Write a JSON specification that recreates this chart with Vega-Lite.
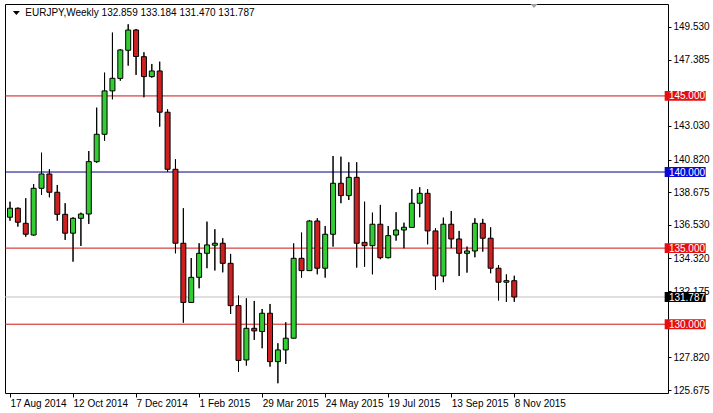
{
  "$schema": "https://vega.github.io/schema/vega-lite/v6.json",
  "width": 663,
  "height": 389,
  "autosize": {"type": "none"},
  "padding": {"left": 5, "top": 4, "right": 45, "bottom": 20},
  "background": "white",
  "config": {
    "view": {"stroke": "#000000", "strokeWidth": 1},
    "font": "Liberation Sans",
    "axis": {"labelOverlap": false, "labelSeparation": 0, "labelBound": false, "labelFlush": false, "grid": false, "domain": false, "title": null}
  },
  "datasets": {
    "candles": [
      {"d": "2014-08-17", "o": 137.03, "h": 138.05, "l": 136.80, "c": 137.62},
      {"d": "2014-08-24", "o": 137.62, "h": 137.67, "l": 136.41, "c": 136.70},
      {"d": "2014-08-31", "o": 136.63, "h": 138.28, "l": 135.75, "c": 135.91},
      {"d": "2014-09-07", "o": 135.86, "h": 139.20, "l": 135.82, "c": 138.93},
      {"d": "2014-09-14", "o": 138.93, "h": 141.27, "l": 138.49, "c": 139.87},
      {"d": "2014-09-21", "o": 139.87, "h": 140.18, "l": 138.34, "c": 138.67},
      {"d": "2014-09-28", "o": 138.67, "h": 139.15, "l": 136.80, "c": 137.22},
      {"d": "2014-10-05", "o": 137.22, "h": 137.95, "l": 135.54, "c": 135.98},
      {"d": "2014-10-12", "o": 135.98, "h": 137.03, "l": 134.11, "c": 136.96},
      {"d": "2014-10-19", "o": 136.96, "h": 137.33, "l": 135.14, "c": 137.24},
      {"d": "2014-10-26", "o": 137.24, "h": 141.38, "l": 136.59, "c": 140.68},
      {"d": "2014-11-02", "o": 140.68, "h": 144.23, "l": 140.61, "c": 142.48},
      {"d": "2014-11-09", "o": 142.48, "h": 146.53, "l": 142.06, "c": 145.33},
      {"d": "2014-11-16", "o": 145.33, "h": 149.16, "l": 144.78, "c": 146.16},
      {"d": "2014-11-23", "o": 146.15, "h": 148.08, "l": 146.00, "c": 148.02},
      {"d": "2014-11-30", "o": 148.00, "h": 149.71, "l": 146.99, "c": 149.33},
      {"d": "2014-12-07", "o": 149.33, "h": 149.40, "l": 146.38, "c": 147.59},
      {"d": "2014-12-14", "o": 147.58, "h": 147.87, "l": 144.91, "c": 146.27},
      {"d": "2014-12-21", "o": 146.27, "h": 147.10, "l": 146.20, "c": 146.64},
      {"d": "2014-12-28", "o": 146.64, "h": 147.25, "l": 142.98, "c": 143.93},
      {"d": "2015-01-04", "o": 143.93, "h": 144.12, "l": 140.02, "c": 140.18},
      {"d": "2015-01-11", "o": 140.18, "h": 140.84, "l": 134.66, "c": 135.32},
      {"d": "2015-01-18", "o": 135.32, "h": 137.62, "l": 130.10, "c": 131.43},
      {"d": "2015-01-25", "o": 131.43, "h": 134.35, "l": 131.40, "c": 133.08},
      {"d": "2015-02-01", "o": 133.08, "h": 135.32, "l": 132.36, "c": 134.66},
      {"d": "2015-02-08", "o": 134.66, "h": 136.74, "l": 133.68, "c": 135.21},
      {"d": "2015-02-15", "o": 135.19, "h": 136.24, "l": 133.53, "c": 135.32},
      {"d": "2015-02-22", "o": 135.32, "h": 135.65, "l": 133.41, "c": 134.00},
      {"d": "2015-03-01", "o": 134.00, "h": 134.62, "l": 130.67, "c": 131.22},
      {"d": "2015-03-08", "o": 131.22, "h": 131.88, "l": 126.88, "c": 127.62},
      {"d": "2015-03-15", "o": 127.65, "h": 131.70, "l": 127.28, "c": 129.73},
      {"d": "2015-03-22", "o": 129.73, "h": 131.53, "l": 128.97, "c": 129.56},
      {"d": "2015-03-29", "o": 129.52, "h": 131.00, "l": 128.42, "c": 130.72},
      {"d": "2015-04-05", "o": 130.72, "h": 131.33, "l": 127.21, "c": 127.54},
      {"d": "2015-04-12", "o": 127.54, "h": 128.75, "l": 126.12, "c": 128.31},
      {"d": "2015-04-19", "o": 128.31, "h": 130.13, "l": 127.39, "c": 129.08},
      {"d": "2015-04-26", "o": 129.08, "h": 135.31, "l": 129.07, "c": 134.33},
      {"d": "2015-05-03", "o": 134.33, "h": 136.02, "l": 133.06, "c": 133.52},
      {"d": "2015-05-10", "o": 133.52, "h": 136.85, "l": 133.50, "c": 136.78},
      {"d": "2015-05-17", "o": 136.78, "h": 136.96, "l": 133.28, "c": 133.68},
      {"d": "2015-05-24", "o": 133.68, "h": 136.45, "l": 133.06, "c": 135.91},
      {"d": "2015-05-31", "o": 135.91, "h": 141.05, "l": 135.10, "c": 139.26},
      {"d": "2015-06-07", "o": 139.26, "h": 141.01, "l": 137.95, "c": 138.45},
      {"d": "2015-06-14", "o": 138.45, "h": 140.64, "l": 138.16, "c": 139.65},
      {"d": "2015-06-21", "o": 139.65, "h": 140.64, "l": 133.72, "c": 135.32},
      {"d": "2015-06-28", "o": 135.38, "h": 138.05, "l": 133.78, "c": 135.16},
      {"d": "2015-07-05", "o": 135.16, "h": 137.33, "l": 133.28, "c": 136.57},
      {"d": "2015-07-12", "o": 136.57, "h": 137.84, "l": 134.27, "c": 134.37},
      {"d": "2015-07-19", "o": 134.37, "h": 136.45, "l": 134.33, "c": 135.82},
      {"d": "2015-07-26", "o": 135.86, "h": 137.36, "l": 135.49, "c": 136.19},
      {"d": "2015-08-02", "o": 136.19, "h": 136.67, "l": 134.99, "c": 136.37},
      {"d": "2015-08-09", "o": 136.36, "h": 138.87, "l": 136.36, "c": 137.95},
      {"d": "2015-08-16", "o": 137.95, "h": 139.00, "l": 137.03, "c": 138.60},
      {"d": "2015-08-23", "o": 138.60, "h": 138.87, "l": 135.25, "c": 136.13},
      {"d": "2015-08-30", "o": 136.13, "h": 136.30, "l": 132.25, "c": 133.17},
      {"d": "2015-09-06", "o": 133.17, "h": 137.00, "l": 132.76, "c": 136.57},
      {"d": "2015-09-13", "o": 136.57, "h": 137.44, "l": 134.99, "c": 135.60},
      {"d": "2015-09-20", "o": 135.60, "h": 136.13, "l": 133.17, "c": 134.66},
      {"d": "2015-09-27", "o": 134.66, "h": 135.10, "l": 133.39, "c": 134.81},
      {"d": "2015-10-04", "o": 134.81, "h": 136.96, "l": 134.40, "c": 136.63},
      {"d": "2015-10-11", "o": 136.63, "h": 136.92, "l": 134.77, "c": 135.65},
      {"d": "2015-10-18", "o": 135.65, "h": 136.37, "l": 133.35, "c": 133.68},
      {"d": "2015-10-25", "o": 133.68, "h": 133.89, "l": 131.56, "c": 132.76},
      {"d": "2015-11-01", "o": 132.76, "h": 133.27, "l": 131.46, "c": 132.86},
      {"d": "2015-11-08", "o": 132.859, "h": 133.184, "l": 131.470, "c": 131.787}
    ],
    "levels": [
      {"v": 145.0, "line": "#cc1414", "box": "#e60f0f"},
      {"v": 140.0, "line": "#000080", "box": "#0a0ad7"},
      {"v": 135.0, "line": "#cc1414", "box": "#e60f0f"},
      {"v": 131.787, "line": "#c0c0c0", "box": "#000000"},
      {"v": 130.0, "line": "#cc1414", "box": "#e60f0f"}
    ]
  },
  "layer": [
    {
      "data": {"name": "candles"},
      "mark": {"type": "rule", "color": "#000000", "strokeWidth": 1, "clip": true},
      "encoding": {
        "x": {
          "field": "d", "type": "temporal", "title": null,
          "scale": {"type": "utc", "domain": [{"year": 2014, "month": 8, "date": 17, "utc": true}, {"year": 2016, "month": 3, "date": 19, "hours": 3, "utc": true}]},
          "axis": {
            "title": null, "domain": false, "grid": false, "tickCount": 30,
            "values": [
              {"year": 2014, "month": 8, "date": 17, "utc": true},
              {"year": 2014, "month": 10, "date": 12, "utc": true},
              {"year": 2014, "month": 12, "date": 7, "utc": true},
              {"year": 2015, "month": 2, "date": 1, "utc": true},
              {"year": 2015, "month": 3, "date": 29, "utc": true},
              {"year": 2015, "month": 5, "date": 24, "utc": true},
              {"year": 2015, "month": 7, "date": 19, "utc": true},
              {"year": 2015, "month": 9, "date": 13, "utc": true},
              {"year": 2015, "month": 11, "date": 8, "utc": true}
            ],
            "format": "%-d %b %Y",
            "tickSize": 4, "tickColor": "#000000",
            "labelAlign": "left", "labelBaseline": "top", "labelPadding": 1, "labelDx": 1,
            "labelFlush": false, "labelOverlap": false, "labelBound": false,
            "labelFont": "Liberation Sans", "labelFontSize": 10, "labelColor": "#000000"
          }
        },
        "y": {
          "field": "l", "type": "quantitative", "title": null,
          "scale": {"domain": [125.48, 151.04], "nice": false, "zero": false},
          "axis": {
            "orient": "right", "title": null, "domain": false, "grid": false, "tickCount": 30,
            "values": [149.53, 147.385, 143.03, 140.82, 138.675, 136.53, 134.32, 132.175, 127.82, 125.675],
            "format": ".3f",
            "tickSize": 3, "tickColor": "#000000", "labelPadding": 2,
            "labelOverlap": false, "labelBound": false, "labelFlush": false,
            "labelFont": "Liberation Sans", "labelFontSize": 10, "labelColor": "#000000"
          }
        },
        "y2": {"field": "h"}
      }
    },
    {
      "data": {"name": "levels"},
      "mark": {"type": "rule", "strokeWidth": 1, "clip": true},
      "encoding": {
        "y": {"field": "v", "type": "quantitative", "title": null},
        "color": {"field": "line", "type": "nominal", "scale": null}
      }
    },
    {
      "data": {"name": "candles"},
      "mark": {"type": "rule", "color": "#000000", "strokeWidth": 1, "clip": true},
      "encoding": {
        "x": {"field": "d", "type": "temporal", "title": null},
        "y": {"field": "l", "type": "quantitative", "title": null},
        "y2": {"field": "h"}
      }
    },
    {
      "data": {"name": "candles"},
      "mark": {"type": "bar", "size": 5, "stroke": "#000000", "strokeWidth": 1, "clip": true},
      "encoding": {
        "x": {"field": "d", "type": "temporal", "title": null},
        "y": {"field": "o", "type": "quantitative", "title": null},
        "y2": {"field": "c"},
        "fill": {"condition": {"test": "datum.c >= datum.o", "value": "#32cd32"}, "value": "#cd2020"}
      }
    },
    {
      "data": {"name": "levels"},
      "mark": {"type": "point", "shape": "M-1,-0.24L1,-0.24L1,0.24L-1,0.24Z", "size": 1681, "filled": true, "opacity": 1, "strokeWidth": 0},
      "encoding": {
        "x": {"datum": {"year": 2016, "month": 4, "date": 7, "hours": 19, "minutes": 30, "utc": true}, "type": "temporal", "title": null},
        "y": {"field": "v", "type": "quantitative", "title": null},
        "fill": {"field": "box", "type": "nominal", "scale": null}
      }
    },
    {
      "data": {"name": "levels"},
      "mark": {"type": "text", "align": "left", "baseline": "middle", "font": "Liberation Sans", "fontSize": 10, "fill": "#ffffff", "dy": 0.5},
      "encoding": {
        "x": {"datum": {"year": 2016, "month": 3, "date": 24, "hours": 9, "utc": true}, "type": "temporal", "title": null},
        "y": {"field": "v", "type": "quantitative", "title": null},
        "text": {"field": "v", "type": "quantitative", "format": ".3f"}
      }
    },
    {
      "data": {"values": [{"t": "EURJPY,Weekly  132.859 133.184 131.470 131.787"}]},
      "mark": {"type": "text", "align": "left", "baseline": "middle", "font": "Liberation Sans", "fontSize": 10, "fill": "#000000"},
      "encoding": {
        "x": {"datum": {"year": 2014, "month": 8, "date": 30, "hours": 13, "minutes": 30, "utc": true}, "type": "temporal", "title": null},
        "y": {"datum": 150.43, "type": "quantitative", "title": null},
        "text": {"field": "t", "type": "nominal"}
      }
    },
    {
      "data": {"values": [{"k": "menu", "c": "#000000"}]},
      "mark": {"type": "point", "shape": "M-1,-0.6L1,-0.6L0,0.6Z", "size": 49, "filled": true, "opacity": 1, "strokeWidth": 0},
      "encoding": {
        "x": {"datum": {"year": 2014, "month": 8, "date": 22, "hours": 16, "minutes": 30, "utc": true}, "type": "temporal", "title": null},
        "y": {"datum": 150.45, "type": "quantitative", "title": null},
        "fill": {"field": "c", "type": "nominal", "scale": null}
      }
    },
    {
      "data": {"values": [{"k": "shift", "c": "#a0a0a0"}]},
      "mark": {"type": "point", "shape": "M-1,-0.6L1,-0.6L0,0.6Z", "size": 49, "filled": true, "opacity": 1, "strokeWidth": 0},
      "encoding": {
        "x": {"datum": {"year": 2015, "month": 11, "date": 25, "hours": 12, "utc": true}, "type": "temporal", "title": null},
        "y": {"datum": 150.91, "type": "quantitative", "title": null},
        "fill": {"field": "c", "type": "nominal", "scale": null}
      }
    }
  ]
}
